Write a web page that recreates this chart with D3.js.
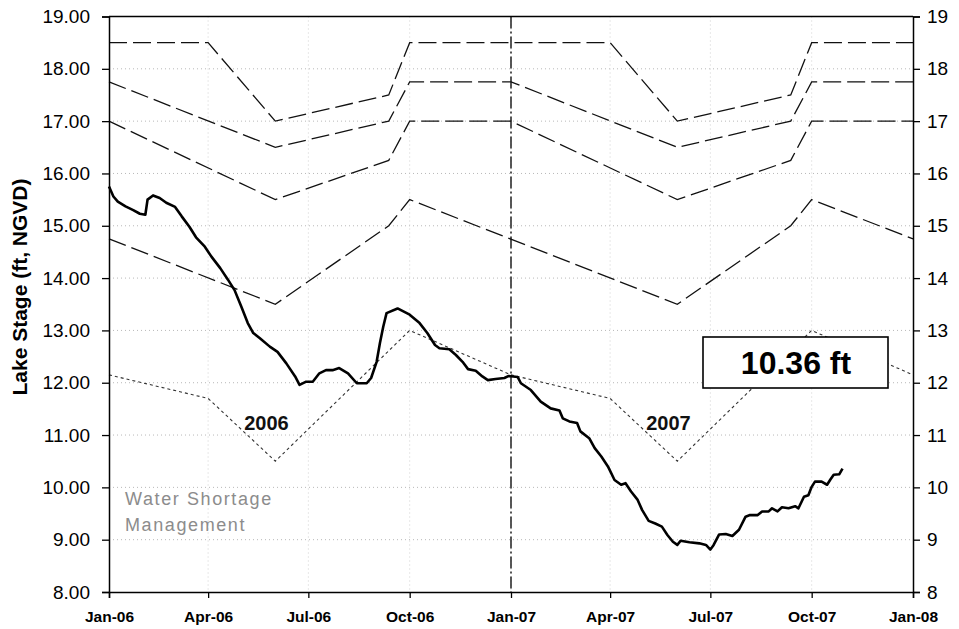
<!DOCTYPE html>
<html>
<head>
<meta charset="utf-8">
<script src="https://cdn.jsdelivr.net/npm/d3@7/dist/d3.min.js"></script>
<style>
  html, body { margin: 0; padding: 0; background: #fff; }
  svg { display: block; }
  text { font-family: "Liberation Sans", Arial, Helvetica, sans-serif; }
</style>
</head>
<body>
<svg id="chart" width="959" height="629"></svg>
<script>
// Daily lake stage (ft, NGVD), Jan 2006 - Oct 2007
const stageDates = [
  "2006-01-01","2006-01-05","2006-01-09","2006-01-16","2006-01-23","2006-01-29","2006-02-03","2006-02-05",
  "2006-02-10","2006-02-16","2006-02-22","2006-03-02","2006-03-08","2006-03-15","2006-03-21","2006-03-29",
  "2006-04-04","2006-04-12","2006-04-19","2006-04-25","2006-05-01","2006-05-07","2006-05-12","2006-05-18",
  "2006-05-27","2006-06-03","2006-06-11","2006-06-19","2006-06-23","2006-06-29","2006-07-05","2006-07-11",
  "2006-07-17","2006-07-23","2006-07-29","2006-08-06","2006-08-14","2006-08-23","2006-08-27","2006-09-01",
  "2006-09-04","2006-09-07","2006-09-10","2006-09-20","2006-10-01","2006-10-10","2006-10-17","2006-10-24",
  "2006-10-28","2006-11-06","2006-11-12","2006-11-18","2006-11-23","2006-11-30","2006-12-06","2006-12-11",
  "2006-12-18","2006-12-26","2006-12-30","2007-01-07","2007-01-10","2007-01-19","2007-01-28","2007-02-06",
  "2007-02-14","2007-02-17","2007-02-23","2007-03-02","2007-03-05","2007-03-13","2007-03-18","2007-03-24",
  "2007-03-30","2007-04-05","2007-04-11","2007-04-15","2007-04-20","2007-04-26","2007-04-30","2007-05-06",
  "2007-05-12","2007-05-18","2007-05-23","2007-05-28","2007-06-01","2007-06-04","2007-06-12","2007-06-21",
  "2007-06-27","2007-07-01","2007-07-04","2007-07-09","2007-07-15","2007-07-21","2007-07-27","2007-08-02",
  "2007-08-06","2007-08-13","2007-08-17","2007-08-23","2007-08-26","2007-08-31","2007-09-04","2007-09-10",
  "2007-09-16","2007-09-19","2007-09-24","2007-09-28","2007-10-01","2007-10-04","2007-10-10","2007-10-15",
  "2007-10-18","2007-10-21","2007-10-26","2007-10-29"
];
const stageValues = [
  15.75,15.56,15.46,15.37,15.30,15.23,15.21,15.50,
  15.58,15.53,15.44,15.36,15.18,14.98,14.78,14.60,
  14.41,14.19,13.97,13.77,13.46,13.14,12.95,12.85,
  12.69,12.59,12.37,12.12,11.96,12.02,12.02,12.18,
  12.24,12.24,12.28,12.18,11.99,11.99,12.09,12.40,
  12.76,13.07,13.33,13.42,13.30,13.14,12.95,12.72,
  12.66,12.64,12.53,12.40,12.26,12.23,12.12,12.05,
  12.07,12.09,12.13,12.11,11.99,11.86,11.64,11.51,
  11.47,11.32,11.26,11.23,11.07,10.94,10.75,10.59,
  10.40,10.14,10.05,10.08,9.92,9.76,9.57,9.36,
  9.31,9.25,9.09,8.96,8.90,8.98,8.95,8.93,
  8.90,8.81,8.90,9.10,9.11,9.07,9.19,9.44,
  9.47,9.47,9.54,9.54,9.60,9.54,9.62,9.60,
  9.64,9.60,9.82,9.85,10.01,10.11,10.11,10.05,
  10.15,10.24,10.25,10.36
];
const currentStageLabel = "10.36 ft";

// Regulation schedule break lines (dashed)
const zoneTopDates = ["2006-01-01","2006-04-01","2006-06-01","2006-09-12","2006-10-01","2007-04-01","2007-06-01","2007-09-12","2007-10-01","2008-01-01"];
const zoneTopValues = [18.5,18.5,17.0,17.5,18.5,18.5,17.0,17.5,18.5,18.5];

const zoneUpperDates = ["2006-01-01","2006-06-01","2006-09-12","2006-10-01","2007-01-01","2007-06-01","2007-09-12","2007-10-01","2008-01-01"];
const zoneUpperValues = [17.75,16.5,17.0,17.75,17.75,16.5,17.0,17.75,17.75];

const zoneMiddleDates = ["2006-01-01","2006-06-01","2006-09-12","2006-10-01","2007-01-01","2007-06-01","2007-09-12","2007-10-01","2008-01-01"];
const zoneMiddleValues = [17.0,15.5,16.25,17.0,17.0,15.5,16.25,17.0,17.0];

const zoneLowDates = ["2006-01-01","2006-06-01","2006-09-12","2006-10-01","2007-06-01","2007-09-12","2007-10-01","2008-01-01"];
const zoneLowValues = [14.75,13.5,15.0,15.5,13.5,15.0,15.5,14.75];

// Water shortage management line (dotted)
const shortageDates = ["2006-01-01","2006-04-01","2006-06-01","2006-10-01","2007-01-01","2007-04-01","2007-06-01","2007-10-01","2008-01-01"];
const shortageValues = [12.15,11.7,10.5,13.0,12.15,11.7,10.5,13.0,12.15];

const yearLabels = ["2006","2007"];
const yearLabelDates = ["2006-05-24","2007-05-24"];
const yearLabelValue = 11.1;

const yTicks = [8,9,10,11,12,13,14,15,16,17,18,19];
const yTitle = "Lake Stage (ft, NGVD)";
const shortageLines = ["Water Shortage", "Management"];
const yearDivider = "2007-01-01";

const parse = d3.timeParse("%Y-%m-%d");
const zip = (ds, vs) => ds.map((d, i) => ({ date: parse(d), value: vs[i] }));

const svg = d3.select("#chart");
const plotL = 109, plotR = 913, plotT = 16.5, plotB = 592;

const x = d3.scaleTime()
  .domain([parse("2006-01-01"), parse("2008-01-01")])
  .range([plotL, plotR]);
const y = d3.scaleLinear().domain([8, 19]).range([plotB, plotT]);

// gridlines
const grid = svg.append("g").attr("stroke", "#b8b8b8").attr("stroke-width", 1)
  .attr("stroke-dasharray", "1,3");
grid.selectAll("line.h").data(yTicks.filter(v => v > 8 && v < 19)).join("line")
  .attr("class", "h")
  .attr("x1", plotL).attr("x2", plotR)
  .attr("y1", d => y(d)).attr("y2", d => y(d));
const qTicks = x.ticks(d3.timeMonth.every(3)).filter(d => +d > +x.domain()[0] && +d < +x.domain()[1]);
grid.selectAll("line.v").data(qTicks).join("line")
  .attr("class", "v")
  .attr("stroke", "#d0d0d0")
  .attr("x1", d => x(d)).attr("x2", d => x(d))
  .attr("y1", plotT).attr("y2", plotB);

const line = d3.line().x(d => x(d.date)).y(d => y(d.value));

// regulation schedule lines
[[zoneTopDates, zoneTopValues], [zoneUpperDates, zoneUpperValues],
 [zoneMiddleDates, zoneMiddleValues], [zoneLowDates, zoneLowValues]].forEach(([ds, vs]) => {
  svg.append("path")
    .attr("d", line(zip(ds, vs)))
    .attr("fill", "none")
    .attr("stroke", "#111")
    .attr("stroke-width", 1.3)
    .attr("stroke-dasharray", "18,6");
});

// water shortage line
svg.append("path")
  .attr("d", line(zip(shortageDates, shortageValues)))
  .attr("fill", "none")
  .attr("stroke", "#333")
  .attr("stroke-width", 1.1)
  .attr("stroke-dasharray", "3,3");

// year divider
svg.append("line")
  .attr("x1", x(parse(yearDivider))).attr("x2", x(parse(yearDivider)))
  .attr("y1", plotT).attr("y2", plotB)
  .attr("stroke", "#111").attr("stroke-width", 1.4)
  .attr("stroke-dasharray", "12,3,2,3");

// lake stage
svg.append("path")
  .attr("d", line(zip(stageDates, stageValues)))
  .attr("fill", "none")
  .attr("stroke", "#000")
  .attr("stroke-width", 2.6)
  .attr("stroke-linejoin", "round");

// year labels
svg.selectAll("text.year").data(yearLabels).join("text")
  .attr("class", "year")
  .attr("x", (d, i) => x(parse(yearLabelDates[i])))
  .attr("y", y(yearLabelValue))
  .attr("text-anchor", "middle")
  .attr("font-size", 20).attr("font-weight", "bold").attr("fill", "#111")
  .text(d => d);

// water shortage label
const ws = svg.append("text")
  .attr("x", 125).attr("y", 505)
  .attr("font-size", 18).attr("letter-spacing", 1.6)
  .attr("fill", "#8c8c8c");
shortageLines.forEach((t, i) => {
  ws.append("tspan").attr("x", 125).attr("dy", i === 0 ? 0 : 26).text(t);
});

// current stage box
svg.append("rect")
  .attr("x", 703).attr("y", 337).attr("width", 185).attr("height", 51)
  .attr("fill", "#fff").attr("stroke", "#000").attr("stroke-width", 1.6);
svg.append("text")
  .attr("x", 796).attr("y", 374)
  .attr("text-anchor", "middle")
  .attr("font-size", 32).attr("font-weight", "bold")
  .text(currentStageLabel);

// frame
svg.append("line").attr("x1", plotL).attr("x2", plotR).attr("y1", plotT).attr("y2", plotT)
  .attr("stroke", "#000").attr("stroke-width", 1.5);

// axes
const axL = svg.append("g").attr("transform", `translate(${plotL},0)`)
  .call(d3.axisLeft(y).tickValues(yTicks).tickFormat(d3.format(".2f")).tickSize(7).tickPadding(12));
const axR = svg.append("g").attr("transform", `translate(${plotR},0)`)
  .call(d3.axisRight(y).tickValues(yTicks).tickFormat(d3.format("d")).tickSize(7).tickPadding(7));
const axB = svg.append("g").attr("transform", `translate(0,${plotB})`)
  .call(d3.axisBottom(x).ticks(d3.timeMonth.every(3)).tickFormat(d3.timeFormat("%b-%y")).tickSize(6).tickPadding(13));

[axL, axR, axB].forEach(g => {
  g.select(".domain").attr("stroke", "#000").attr("stroke-width", 1.5);
  g.selectAll(".tick line").attr("stroke", "#000").attr("stroke-width", 1.3);
  g.selectAll("text").attr("fill", "#000").style("font-family", '"Liberation Sans", Arial, sans-serif');
});
axL.selectAll("text").attr("font-size", 19);
axR.selectAll("text").attr("font-size", 19);
axB.selectAll("text").attr("font-size", 15.5).attr("font-weight", "bold");

// y title
svg.append("text")
  .attr("transform", "translate(27,287) rotate(-90)")
  .attr("text-anchor", "middle")
  .attr("font-size", 21).attr("font-weight", "bold")
  .text(yTitle);
</script>
</body>
</html>
